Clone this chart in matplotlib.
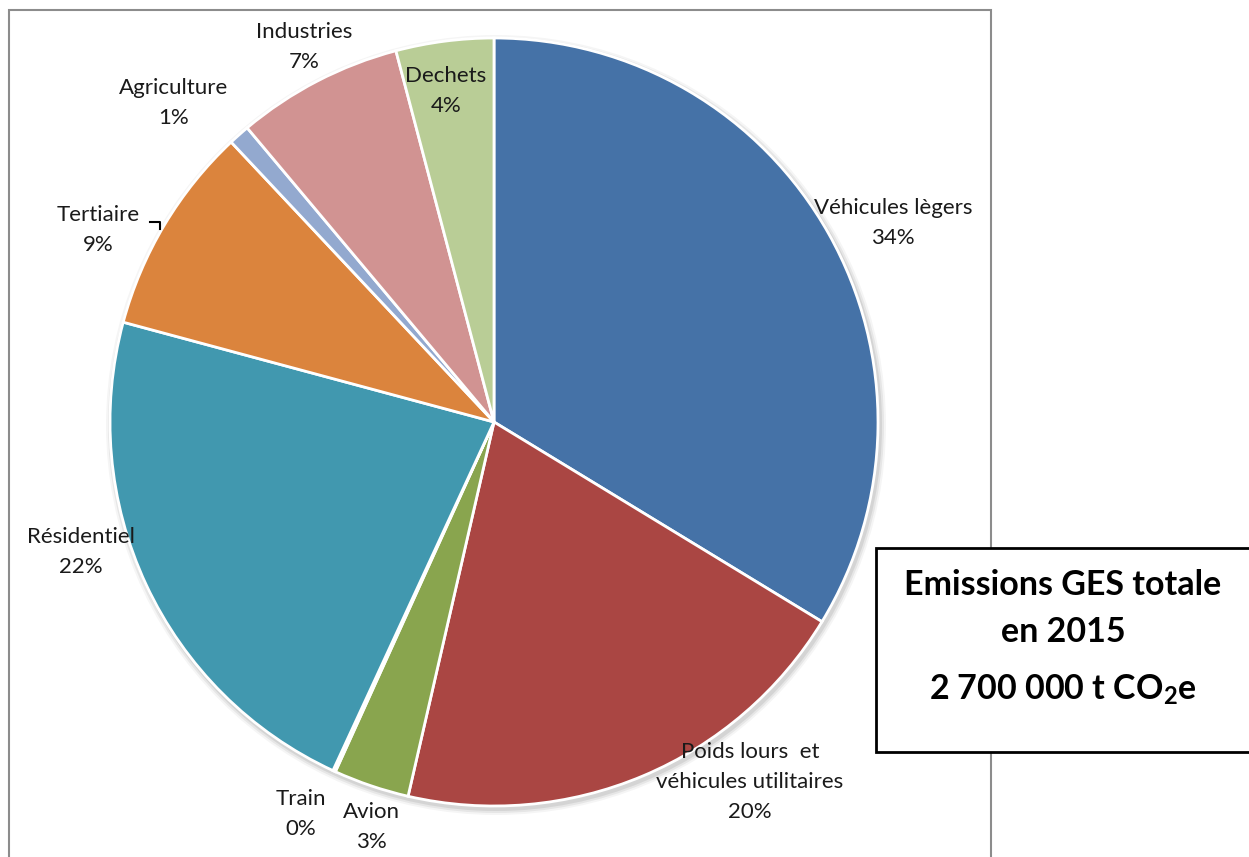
import numpy as np
import matplotlib.pyplot as plt
from matplotlib.patches import Rectangle, Circle

# Emissions GES 2015 par secteur (t CO2e)
secteurs = ["Véhicules lègers", "Poids lours  et\nvéhicules utilitaires", "Avion", "Train",
            "Résidentiel", "Tertiaire", "Agriculture", "Industries", "Dechets"]
emissions = [910000, 537000, 86000, 3000, 602000, 238000, 24000, 189000, 111000]
couleurs = ["#4572A7", "#AA4643", "#89A54E", "#7D60A0", "#4198AF",
            "#DB843D", "#93A9CF", "#D19392", "#B9CD96"]

# position des étiquettes (pixels, origine en bas à gauche)
pos_etiquettes = [(893, 634), (750, 75), (371, 30), (301, 43), (81, 305),
                  (98, 627), (174, 754), (304, 810), (446, 766)]

plt.rcParams['font.family'] = ['Lato', 'DejaVu Sans']
plt.rcParams['mathtext.fontset'] = 'custom'
plt.rcParams['mathtext.rm'] = 'Lato'
plt.rcParams['mathtext.bf'] = 'Lato:bold'

fig = plt.figure(figsize=(12.49, 8.57), dpi=100)
ax = fig.add_axes([0, 0, 1, 1])

centre = (494, 435)
rayon = 384

# cadre du graphique
ax.add_patch(Rectangle((9, -20), 982, 867, facecolor="none", edgecolor="#8c8c8c", lw=1.5, zorder=0))

# ombre légère autour du camembert
for i, a in enumerate([0.08, 0.06, 0.04]):
    ax.add_patch(Circle((centre[0] + 2, centre[1] - 3), rayon + 2 + 2 * i, color="#000000", alpha=a, lw=0, zorder=1))

ax.pie(emissions, colors=couleurs, startangle=90, counterclock=False,
       center=centre, radius=rayon,
       wedgeprops=dict(edgecolor="white", linewidth=2, zorder=2))

total = sum(emissions)
for nom, val, (x, y) in zip(secteurs, emissions, pos_etiquettes):
    pct = 100 * val / total
    ax.text(x, y, f"{nom}\n{pct:.0f}%", ha="center", va="center", fontsize=16,
            color="#1a1a1a", linespacing=1.6, zorder=5)

# petit trait de rappel pour Tertiaire
ax.plot([150, 160, 160], [635, 635, 628], color="black", lw=1.5, zorder=5)

# encadré du total
ax.add_patch(Rectangle((876, 105), 380, 204, facecolor="white", edgecolor="black", lw=2, zorder=6))
ax.text(1063, 272, "Emissions GES totale", ha="center", va="center", fontsize=24.5, fontweight="bold", zorder=7)
ax.text(1063, 225, "en 2015", ha="center", va="center", fontsize=24.5, fontweight="bold", zorder=7)
ax.text(1063, 167, "2 700 000 t CO$_\\mathbf{2}$e", ha="center", va="center", fontsize=24.5, fontweight="bold", zorder=7)

ax.set_xlim(0, 1249)
ax.set_ylim(0, 857)
ax.axis("off")

plt.savefig("out.png", dpi=100)
